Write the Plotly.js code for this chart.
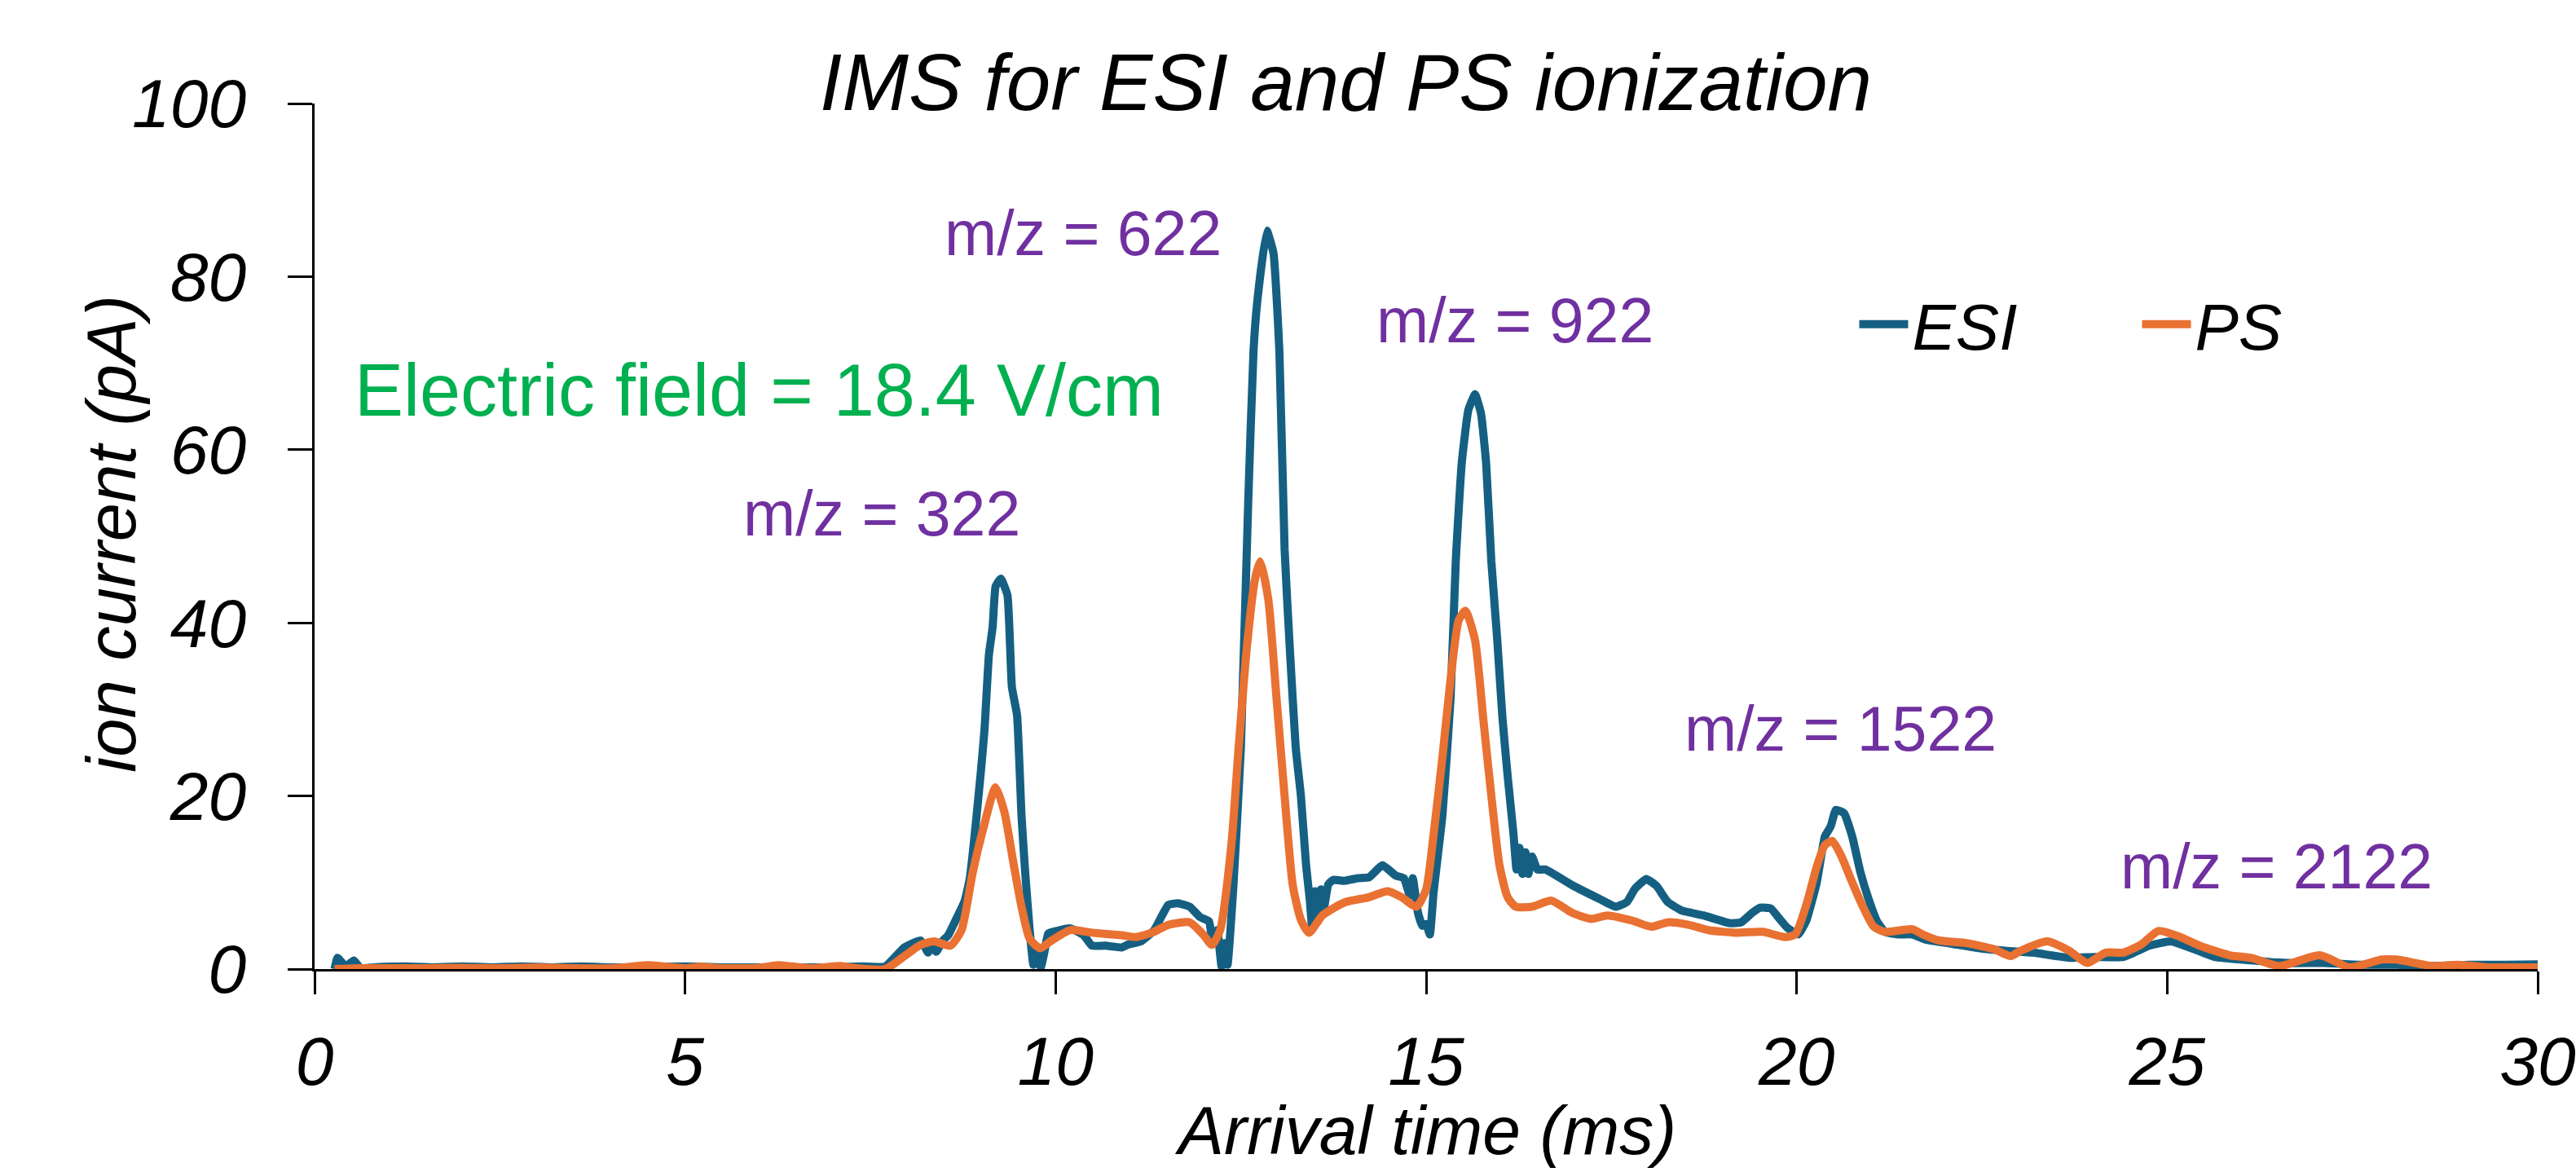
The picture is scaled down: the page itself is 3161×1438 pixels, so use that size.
<!DOCTYPE html>
<html>
<head>
<meta charset="utf-8">
<script src="https://cdn.plot.ly/plotly-3.0.1.min.js"></script>
<style>
  html, body { margin: 0; padding: 0; background: #ffffff; }
  #chart { width: 3161px; height: 1438px; }
</style>
</head>
<body>
<div id="chart"></div>
<script>
// Arrival time (ms) and ion current (pA)
const esiTime = [0.27,0.31,0.42,0.53,0.62,0.8,1.2,1.6,2.0,2.4,2.8,3.2,3.6,4.0,4.4,5.0,5.5,6.0,6.6,7.0,7.4,7.7,
  7.96,8.18,8.28,8.33,8.39,8.47,8.55,8.66,8.77,8.84,8.99,9.04,9.10,9.15,9.19,9.26,9.35,9.41,9.48,9.54,9.59,9.65,
  9.70,9.75,9.80,9.85,9.90,10.01,10.2,10.38,10.49,10.67,10.89,10.97,11.15,11.33,11.52,11.65,11.81,11.95,12.07,
  12.12,12.18,12.24,12.28,12.32,12.40,12.50,12.60,12.67,12.72,12.85,12.94,13.02,13.09,13.16,13.24,13.31,13.38,
  13.43,13.46,13.50,13.54,13.58,13.62,13.68,13.75,13.9,14.08,14.23,14.41,14.59,14.7,14.78,14.82,14.89,14.95,
  15.0,15.05,15.1,15.22,15.33,15.40,15.48,15.57,15.66,15.74,15.81,15.88,15.96,16.03,16.10,16.18,16.22,16.26,
  16.30,16.34,16.38,16.43,16.5,16.61,16.97,17.34,17.56,17.71,17.82,17.97,18.11,18.26,18.44,18.74,19.10,19.25,
  19.40,19.51,19.65,19.76,19.87,20.02,20.13,20.27,20.38,20.46,20.53,20.64,20.75,20.86,20.97,21.08,21.19,21.37,
  21.56,21.74,22.11,22.47,22.84,23.19,23.68,24.02,24.41,24.76,25.05,25.39,25.64,26.13,26.62,27.11,27.60,28.09,
  28.59,29.08,29.57,30.0];
const esiCurrent = [0,1.3,0.3,1.0,0.1,0.2,0.3,0.2,0.3,0.2,0.3,0.2,0.3,0.2,0.2,0.3,0.2,0.2,0.2,0.2,0.3,0.3,
  2.5,3.3,1.9,3.0,2.0,3.2,3.9,5.8,7.8,10.4,22.7,27.6,36.3,39.5,44.2,45.1,43.2,32.6,29.3,17.7,11.1,4.5,
  0.5,2.5,0.2,2.0,4.1,4.4,4.7,3.9,2.7,2.7,2.5,2.8,3.2,4.5,7.4,7.6,7.2,6.0,5.5,
  3.0,4.5,0.3,3.0,0.5,9.7,25.6,54.2,71.3,77.0,85.3,82.7,71.3,48.5,37.1,25.6,20.0,12.0,
  8.0,5.0,9.0,5.5,9.2,7.0,9.8,10.3,10.2,10.5,10.6,12.0,10.8,10.5,8.5,10.5,6.5,5.0,
  5.2,4.0,8.8,17.8,31.3,47.1,58.4,64.6,66.4,64.2,58.4,47.1,38.0,29.0,22.3,15.5,11.5,14.0,
  11.0,13.5,11.0,13.0,11.5,11.5,9.7,8.1,7.2,7.75,9.3,10.4,9.6,7.75,6.8,6.2,5.3,5.4,
  6.5,7.1,7.0,5.9,4.8,4.0,5.6,9.95,15.3,16.5,18.4,18.0,15.3,11.2,8.1,5.6,4.3,4.0,
  4.0,3.4,2.9,2.4,2.1,1.9,1.3,1.4,1.4,2.7,3.2,2.2,1.4,1.0,0.7,0.7,0.5,0.5,
  0.35,0.5,0.5,0.55];

const psTime = [0.27,0.6,1.0,1.5,1.85,2.5,3.0,3.5,4.0,4.3,4.5,4.7,5.0,5.2,5.5,6.0,6.25,6.45,6.7,7.1,7.3,7.7,
  7.96,8.18,8.36,8.58,8.73,8.88,9.02,9.19,9.31,9.42,9.54,9.65,9.79,9.93,10.2,10.49,10.89,11.08,11.3,11.52,11.81,
  11.99,12.11,12.22,12.37,12.47,12.58,12.69,12.76,12.87,12.98,13.09,13.20,13.31,13.42,13.60,13.90,14.23,14.48,
  14.67,14.87,15.0,15.1,15.22,15.33,15.44,15.53,15.66,15.77,15.88,15.99,16.10,16.21,16.43,16.69,16.97,17.23,
  17.45,17.78,18.04,18.26,18.55,18.81,19.18,19.54,19.84,19.98,20.13,20.27,20.38,20.48,20.60,20.75,20.90,21.04,
  21.19,21.56,21.70,21.92,22.29,22.66,22.89,23.02,23.38,23.68,23.92,24.17,24.41,24.66,24.88,25.15,25.44,25.84,
  26.13,26.52,27.06,27.46,27.90,28.09,28.59,28.93,29.32,30.0];
const psCurrent = [0,0.1,0.1,0.1,0.15,0.1,0.2,0.1,0.1,0.3,0.45,0.3,0.1,0.25,0.1,0.15,0.45,0.3,0.1,0.35,0.1,0.0,
  1.5,2.8,3.2,2.7,4.5,11.1,16.1,21.0,18.1,12.8,7.2,3.5,2.4,3.2,4.5,4.2,3.9,3.7,4.2,5.1,5.4,
  4.0,2.8,4.5,14.2,25.6,37.1,45.0,47.1,42.7,31.4,20.0,9.7,5.7,4.2,6.2,7.7,8.3,9.0,
  8.3,7.2,9.2,15.5,24.5,33.5,40.3,41.4,38.0,29.0,20.0,12.0,8.3,7.2,7.2,7.9,6.5,5.8,
  6.2,5.6,4.9,5.4,5.1,4.5,4.2,4.3,3.7,4.0,7.4,11.8,14.3,14.8,13.1,10.0,7.1,4.9,
  4.3,4.6,4.0,3.3,3.0,2.3,1.5,2.1,3.2,2.1,0.7,1.9,1.9,2.9,4.4,3.8,2.7,1.6,
  1.3,0.35,1.6,0.2,1.1,1.1,0.35,0.5,0.2,0.2];

const seriesNames = ["ESI", "PS"];
const xTicks = [0, 5, 10, 15, 20, 25, 30];
const yTicks = [0, 20, 40, 60, 80, 100];

// peak labels
const peakLabels = ["m/z = 322", "m/z = 622", "m/z = 922", "m/z = 1522", "m/z = 2122"];
const peakLabelX = [7.65, 10.37, 16.2, 20.59, 26.47];
const peakLabelY = [52.6, 85.0, 75.0, 27.8, 11.9];
const fieldLabel = "Electric field = 18.4 V/cm";
const fieldLabelX = 6.0;
const fieldLabelY = 66.9;
const yTitle = "ion current (pA)";
const xTitle = "Arrival time (ms)";
const chartTitle = "IMS for ESI and PS ionization";

const ESI_COLOR = "#156082";
const PS_COLOR = "#E97132";
const PURPLE = "#7030A0";
const GREEN = "#00B050";
const ITALIC_FONT = "Liberation Sans, Arial, sans-serif";

const traces = [
  { x: esiTime, y: esiCurrent, name: "<i>" + seriesNames[0] + "</i>", type: "scatter", mode: "lines",
    line: { color: ESI_COLOR, width: 10, shape: "spline", smoothing: 0.4 } },
  { x: psTime, y: psCurrent, name: "<i>" + seriesNames[1] + "</i>", type: "scatter", mode: "lines",
    line: { color: PS_COLOR, width: 10, shape: "spline", smoothing: 0.6 } }
];

const annotations = peakLabels.map((t, i) => ({
  x: peakLabelX[i], y: peakLabelY[i], xref: "x", yref: "y", text: t, showarrow: false,
  xanchor: "center", yanchor: "middle",
  font: { family: "Liberation Sans, Arial, sans-serif", size: 77, color: PURPLE }
}));
annotations.push({
  x: fieldLabelX, y: fieldLabelY, xref: "x", yref: "y", text: fieldLabel, showarrow: false,
  xanchor: "center", yanchor: "middle",
  font: { family: "Liberation Sans, Arial, sans-serif", size: 90, color: GREEN }
});
// axis titles, placed as in the reference
annotations.push({
  x: -0.0913, y: 0.503, xref: "paper", yref: "paper", text: "<i>" + yTitle + "</i>",
  textangle: -90, showarrow: false, xanchor: "center", yanchor: "middle",
  font: { family: ITALIC_FONT, size: 85, color: "#000000" }
});
annotations.push({
  x: 0.4996, y: -0.2315, xref: "paper", yref: "paper", text: "<i>" + xTitle + "</i>",
  showarrow: false, xanchor: "center", yanchor: "bottom", borderpad: 0,
  font: { family: ITALIC_FONT, size: 84, color: "#000000" }
});

const layout = {
  width: 3161, height: 1438,
  paper_bgcolor: "#ffffff", plot_bgcolor: "#ffffff",
  margin: { l: 386, r: 47, t: 127, b: 249, pad: 0 },
  showlegend: true,
  title: {
    text: "<i>" + chartTitle + "</i>",
    font: { family: ITALIC_FONT, size: 98, color: "#000000" },
    x: 0.4639, xref: "paper", xanchor: "center",
    y: 0.930, yref: "container", yanchor: "middle"
  },
  xaxis: {
    range: [0, 30], tickvals: xTicks, ticktext: xTicks.map(v => "<i>" + v + "</i>"),
    showgrid: false, zeroline: false,
    showline: true, linecolor: "#000000", linewidth: 3,
    ticks: "outside", ticklen: 28, tickwidth: 3, tickcolor: "#000000",
    tickfont: { family: ITALIC_FONT, size: 84, color: "#000000" },
    ticklabelstandoff: 10
  },
  yaxis: {
    range: [0, 100], tickvals: yTicks, ticktext: yTicks.map(v => "<i>" + v + "</i>"),
    showgrid: false, zeroline: false,
    showline: true, linecolor: "#000000", linewidth: 3,
    ticks: "outside", ticklen: 30, tickwidth: 3, tickcolor: "#000000",
    tickfont: { family: ITALIC_FONT, size: 84, color: "#000000" },
    ticklabelstandoff: 34
  },
  legend: {
    orientation: "h", x: 0.693, y: 0.745, xanchor: "left", yanchor: "middle",
    font: { family: ITALIC_FONT, size: 80, color: "#000000" },
    bgcolor: "rgba(0,0,0,0)", borderwidth: 0,
    entrywidth: 272, entrywidthmode: "pixels", itemwidth: 60, tracegroupgap: 0
  },
  annotations: annotations
};

Plotly.newPlot("chart", traces, layout, { staticPlot: true, displayModeBar: false });
</script>
</body>
</html>
